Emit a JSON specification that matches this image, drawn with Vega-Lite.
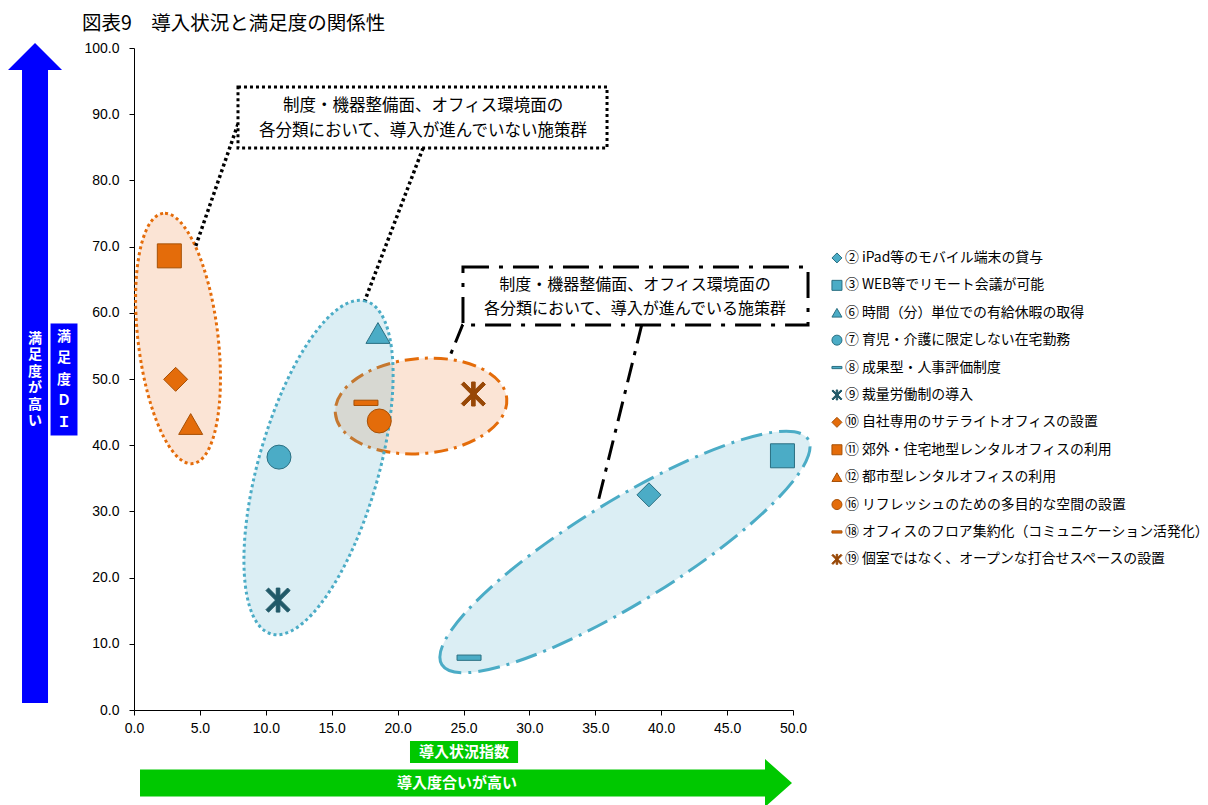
{
  "$schema": "https://vega.github.io/schema/vega-lite/v6.json",
  "width": 659,
  "height": 662,
  "autosize": {"type": "none"},
  "padding": {"left": 134, "top": 48, "right": 415, "bottom": 95},
  "background": "white",
  "title": {"text": "図表9　導入状況と満足度の関係性", "anchor": "start", "frame": "group", "font": "Noto Sans CJK JP", "fontSize": 19.5, "fontWeight": "normal", "color": "#000000", "dx": -52, "offset": 7},
  "config": {
    "view": {"stroke": null},
    "axis": {"grid": false, "labelFont": "Liberation Sans", "labelFontSize": 14, "labelColor": "#000000", "tickColor": "#000000", "domainColor": "#000000", "tickSize": 5, "title": null, "labelFlush": false},
    "legend": {"orient": "none", "legendX": 696, "legendY": 203, "labelFont": "Noto Sans CJK JP", "labelFontSize": 13.9, "labelColor": "#000000", "labelLimit": 420, "symbolSize": 100, "symbolStrokeWidth": 1, "rowPadding": 12.4, "labelOffset": 1, "padding": 0}
  },
  "data": {"values": [
      {"label": "② iPad等のモバイル端末の貸与", "x": 39.07, "y": 32.5},
      {"label": "③ WEB等でリモート会議が可能", "x": 49.2, "y": 38.4},
      {"label": "⑥ 時間（分）単位での有給休暇の取得", "x": 18.51, "y": 56.95},
      {"label": "⑦ 育児・介護に限定しない在宅勤務", "x": 11.0, "y": 38.2},
      {"label": "⑧ 成果型・人事評価制度", "x": 25.42, "y": 7.9},
      {"label": "⑨ 裁量労働制の導入", "x": 10.93, "y": 16.6},
      {"label": "⑩ 自社専用のサテライトオフィスの設置", "x": 3.16, "y": 49.95},
      {"label": "⑪ 郊外・住宅地型レンタルオフィスの利用", "x": 2.68, "y": 68.6},
      {"label": "⑫ 都市型レンタルオフィスの利用", "x": 4.3, "y": 43.2},
      {"label": "⑯ リフレッシュのための多目的な空間の設置", "x": 18.61, "y": 43.66},
      {"label": "⑱ オフィスのフロア集約化（コミュニケーション活発化）", "x": 17.6, "y": 46.4},
      {"label": "⑲ 個室ではなく、オープンな打合せスペースの設置", "x": 25.75, "y": 47.73}
  ]},
  "layer": [
    {"transform": [{"aggregate": [{"op": "count", "as": "n"}]}], "mark": {"type": "point", "shape": "M 0 -330 L 27 -303 L 13 -303 L 13 330 L -13 330 L -13 -303 L -27 -303 Z", "size": 4, "filled": true, "fill": "#0000ff", "strokeWidth": 0, "opacity": 1},
     "encoding": {"x": {"datum": -7.51}, "y": {"datum": 50.91}}},
    {"transform": [{"aggregate": [{"op": "count", "as": "n"}]}], "mark": {"type": "point", "shape": "M 326 0 L 299 -24 L 299 -13.5 L -326 -13.5 L -326 13.5 L 299 13.5 L 299 24 Z", "size": 4, "filled": true, "fill": "#00c800", "strokeWidth": 0, "opacity": 1},
     "encoding": {"x": {"datum": 25.19}, "y": {"datum": -11.03}}},
    {"transform": [{"aggregate": [{"op": "count", "as": "n"}]}], "mark": {"type": "rect", "fill": "#00c800", "strokeWidth": 0},
     "encoding": {"x": {"datum": 20.94}, "x2": {"datum": 29.14}, "y": {"datum": -4.68}, "y2": {"datum": -8.01}}},
    {"transform": [{"aggregate": [{"op": "count", "as": "n"}]}], "mark": {"type": "rect", "fill": "#0000ff", "stroke": "#ffffff", "strokeWidth": 1},
     "encoding": {"x": {"datum": -6.37}, "x2": {"datum": -4.25}, "y": {"datum": 58.46}, "y2": {"datum": 41.39}}},
    {"transform": [{"aggregate": [{"op": "count", "as": "n"}]}], "mark": {"type": "text", "text": "導入状況指数", "font": "Noto Sans CJK JP", "fontSize": 15, "fontWeight": "bold", "color": "#ffffff", "align": "center", "baseline": "middle"},
     "encoding": {"x": {"datum": 25.04}, "y": {"datum": -6.34}}},
    {"transform": [{"aggregate": [{"op": "count", "as": "n"}]}], "mark": {"type": "text", "text": "導入度合いが高い", "font": "Noto Sans CJK JP", "fontSize": 15, "fontWeight": "bold", "color": "#ffffff", "align": "center", "baseline": "middle"},
     "encoding": {"x": {"datum": 24.5}, "y": {"datum": -11.03}}},
    {"transform": [{"aggregate": [{"op": "count", "as": "n"}]}], "mark": {"type": "text", "text": ["満", "足", "度", "Ｄ", "Ｉ"], "lineHeight": 21.5, "dy": -43, "font": "Noto Sans CJK JP", "fontSize": 14, "fontWeight": "bold", "color": "#ffffff", "align": "center", "baseline": "middle"},
     "encoding": {"x": {"datum": -5.31}, "y": {"datum": 49.85}}},
    {"transform": [{"aggregate": [{"op": "count", "as": "n"}]}], "mark": {"type": "text", "text": ["満", "足", "度", "が", "高", "い"], "lineHeight": 16.5, "dy": -41.25, "font": "Noto Sans CJK JP", "fontSize": 14, "fontWeight": "bold", "color": "#ffffff", "align": "center", "baseline": "middle"},
     "encoding": {"x": {"datum": -7.51}, "y": {"datum": 49.85}}},
    {"transform": [{"aggregate": [{"op": "count", "as": "n"}]}], "mark": {"type": "point", "shape": "M -86 0 A 86 47.5 0 1 0 86 0 A 86 47.5 0 1 0 -86 0 Z", "size": 4, "angle": -5, "filled": true, "fill": "#fbe4d5", "stroke": "#e46c0a", "strokeWidth": 3, "strokeDash": [14, 6, 3, 6], "opacity": 1},
     "encoding": {"x": {"datum": 21.78}, "y": {"datum": 45.92}}},
    {"transform": [{"aggregate": [{"op": "count", "as": "n"}]}], "mark": {"type": "point", "shape": "M -126 0 A 126 40 0 1 0 126 0 A 126 40 0 1 0 -126 0 Z", "size": 4, "angle": 83.2, "filled": true, "fill": "#fbe4d5", "stroke": "#e46c0a", "strokeWidth": 3, "strokeDash": [3, 3], "opacity": 1},
     "encoding": {"x": {"datum": 3.34}, "y": {"datum": 56.12}}},
    {"transform": [{"aggregate": [{"op": "count", "as": "n"}]}], "mark": {"type": "point", "shape": "M -215 0 A 215 51 0 1 0 215 0 A 215 51 0 1 0 -215 0 Z", "size": 4, "angle": -31.6, "filled": true, "fill": "rgba(75,172,198,0.2)", "stroke": "#4bacc6", "strokeWidth": 3, "strokeDash": [22, 7, 3, 7], "opacity": 1},
     "encoding": {"x": {"datum": 37.25}, "y": {"datum": 23.87}}},
    {"transform": [{"aggregate": [{"op": "count", "as": "n"}]}], "mark": {"type": "point", "shape": "M -173 0 A 173 60 0 1 0 173 0 A 173 60 0 1 0 -173 0 Z", "size": 4, "angle": 105.85, "filled": true, "fill": "rgba(75,172,198,0.2)", "stroke": "#4bacc6", "strokeWidth": 3, "strokeDash": [3, 3], "opacity": 1},
     "encoding": {"x": {"datum": 14.0}, "y": {"datum": 36.63}}},
    {"transform": [{"aggregate": [{"op": "count", "as": "n"}]}], "mark": {"type": "rule", "color": "#000000", "strokeWidth": 3.5, "strokeDash": [3, 3]},
     "encoding": {"x": {"datum": 7.89}, "y": {"datum": 88.52}, "x2": {"datum": 4.63}, "y2": {"datum": 69.79}}},
    {"transform": [{"aggregate": [{"op": "count", "as": "n"}]}], "mark": {"type": "rule", "color": "#000000", "strokeWidth": 3.5, "strokeDash": [3, 3]},
     "encoding": {"x": {"datum": 21.93}, "y": {"datum": 84.89}, "x2": {"datum": 17.53}, "y2": {"datum": 61.93}}},
    {"transform": [{"aggregate": [{"op": "count", "as": "n"}]}], "mark": {"type": "rule", "color": "#000000", "strokeWidth": 3, "strokeDash": [20, 8, 4, 8]},
     "encoding": {"x": {"datum": 24.96}, "y": {"datum": 58.31}, "x2": {"datum": 23.82}, "y2": {"datum": 52.72}}},
    {"transform": [{"aggregate": [{"op": "count", "as": "n"}]}], "mark": {"type": "rule", "color": "#000000", "strokeWidth": 3, "strokeDash": [20, 8, 4, 8]},
     "encoding": {"x": {"datum": 38.54}, "y": {"datum": 58.31}, "x2": {"datum": 35.13}, "y2": {"datum": 30.82}}},
    {"transform": [{"aggregate": [{"op": "count", "as": "n"}]}], "mark": {"type": "rect", "fill": "#ffffff", "stroke": "#000000", "strokeWidth": 3, "strokeDash": [3, 3]},
     "encoding": {"x": {"datum": 7.89}, "x2": {"datum": 35.89}, "y": {"datum": 94.11}, "y2": {"datum": 84.89}}},
    {"transform": [{"aggregate": [{"op": "count", "as": "n"}]}], "mark": {"type": "rect", "fill": "#ffffff", "stroke": "#000000", "strokeWidth": 3, "strokeDash": [26, 10, 4, 10]},
     "encoding": {"x": {"datum": 24.96}, "x2": {"datum": 51.14}, "y": {"datum": 66.92}, "y2": {"datum": 58.16}}},
    {"transform": [{"aggregate": [{"op": "count", "as": "n"}]}], "mark": {"type": "text", "text": ["制度・機器整備面、オフィス環境面の", "各分類において、導入が進んでいない施策群"], "lineHeight": 25, "dy": -12.5, "font": "Noto Sans CJK JP", "fontSize": 16.5, "fontWeight": "normal", "color": "#000000", "align": "center", "baseline": "middle"},
     "encoding": {"x": {"datum": 21.93}, "y": {"datum": 89.35}}},
    {"transform": [{"aggregate": [{"op": "count", "as": "n"}]}], "mark": {"type": "text", "text": ["制度・機器整備面、オフィス環境面の", "各分類において、導入が進んでいる施策群"], "lineHeight": 24, "dy": -12, "font": "Noto Sans CJK JP", "fontSize": 16, "fontWeight": "normal", "color": "#000000", "align": "center", "baseline": "middle"},
     "encoding": {"x": {"datum": 38.01}, "y": {"datum": 62.39}}},
    {"mark": {"type": "point", "filled": true, "size": 576, "strokeWidth": 1, "opacity": 1},
     "encoding": {
       "x": {"field": "x", "type": "quantitative", "scale": {"domain": [0, 50], "nice": false, "zero": false}, "axis": {"values": [0, 5, 10, 15, 20, 25, 30, 35, 40, 45, 50], "format": ".1f", "labelPadding": 6}},
       "y": {"field": "y", "type": "quantitative", "scale": {"domain": [0, 100], "nice": false, "zero": false}, "axis": {"values": [0, 10, 20, 30, 40, 50, 60, 70, 80, 90, 100], "format": ".1f", "labelPadding": 10}},
       "shape": {"field": "label", "type": "nominal", "title": null, "scale": {
         "domain": ["② iPad等のモバイル端末の貸与", "③ WEB等でリモート会議が可能", "⑥ 時間（分）単位での有給休暇の取得", "⑦ 育児・介護に限定しない在宅勤務", "⑧ 成果型・人事評価制度", "⑨ 裁量労働制の導入", "⑩ 自社専用のサテライトオフィスの設置", "⑪ 郊外・住宅地型レンタルオフィスの利用", "⑫ 都市型レンタルオフィスの利用", "⑯ リフレッシュのための多目的な空間の設置", "⑱ オフィスのフロア集約化（コミュニケーション活発化）", "⑲ 個室ではなく、オープンな打合せスペースの設置"],
         "range": ["diamond", "square", "triangle-up", "circle", "M -1 -0.22 L 1 -0.22 L 1 0.22 L -1 0.22 Z", "M -0.15 -1 L 0.15 -1 L 0.15 1 L -0.15 1 Z M -0.794 -1.006 L 1.006 0.794 L 0.794 1.006 L -1.006 -0.794 Z M -0.794 1.006 L -1.006 0.794 L 0.794 -1.006 L 1.006 -0.794 Z", "diamond", "square", "triangle-up", "circle", "M -1 -0.22 L 1 -0.22 L 1 0.22 L -1 0.22 Z", "M -0.15 -1 L 0.15 -1 L 0.15 1 L -0.15 1 Z M -0.794 -1.006 L 1.006 0.794 L 0.794 1.006 L -1.006 -0.794 Z M -0.794 1.006 L -1.006 0.794 L 0.794 -1.006 L 1.006 -0.794 Z"]}},
       "fill": {"field": "label", "type": "nominal", "title": null, "scale": {
         "domain": ["② iPad等のモバイル端末の貸与", "③ WEB等でリモート会議が可能", "⑥ 時間（分）単位での有給休暇の取得", "⑦ 育児・介護に限定しない在宅勤務", "⑧ 成果型・人事評価制度", "⑨ 裁量労働制の導入", "⑩ 自社専用のサテライトオフィスの設置", "⑪ 郊外・住宅地型レンタルオフィスの利用", "⑫ 都市型レンタルオフィスの利用", "⑯ リフレッシュのための多目的な空間の設置", "⑱ オフィスのフロア集約化（コミュニケーション活発化）", "⑲ 個室ではなく、オープンな打合せスペースの設置"],
         "range": ["#4bacc6", "#4bacc6", "#4bacc6", "#4bacc6", "#4bacc6", "#215968", "#e46c0a", "#e46c0a", "#e46c0a", "#e46c0a", "#e46c0a", "#984807"]}},
       "stroke": {"field": "label", "type": "nominal", "title": null, "scale": {
         "domain": ["② iPad等のモバイル端末の貸与", "③ WEB等でリモート会議が可能", "⑥ 時間（分）単位での有給休暇の取得", "⑦ 育児・介護に限定しない在宅勤務", "⑧ 成果型・人事評価制度", "⑨ 裁量労働制の導入", "⑩ 自社専用のサテライトオフィスの設置", "⑪ 郊外・住宅地型レンタルオフィスの利用", "⑫ 都市型レンタルオフィスの利用", "⑯ リフレッシュのための多目的な空間の設置", "⑱ オフィスのフロア集約化（コミュニケーション活発化）", "⑲ 個室ではなく、オープンな打合せスペースの設置"],
         "range": ["#2a6f82", "#2a6f82", "#2a6f82", "#2a6f82", "#2a6f82", "#215968", "#a65006", "#a65006", "#a65006", "#a65006", "#a65006", "#984807"]}}
     }}
  ]
}
